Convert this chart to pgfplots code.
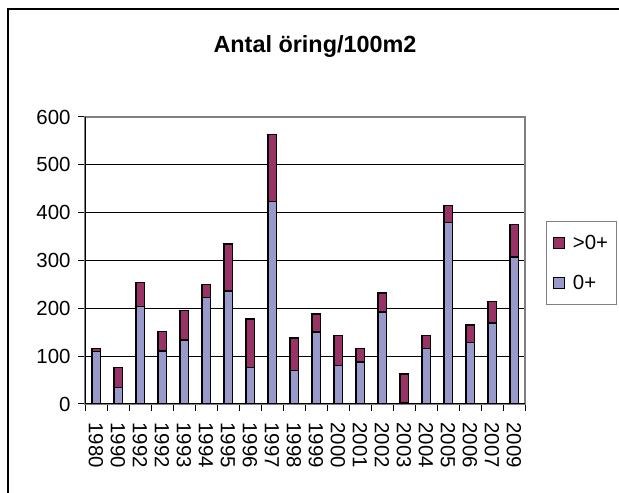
\documentclass[border=0pt]{standalone}
\usepackage{fontspec}
\setmainfont{Liberation Sans}
\usepackage{pgfplots}
\pgfplotsset{compat=1.18}
\definecolor{zero}{HTML}{9999CC}
\definecolor{older}{HTML}{993366}
\begin{document}
\begin{tikzpicture}[x=1bp,y=1bp]
\useasboundingbox (0,0) rectangle (619,493);
\draw[line width=1.2bp] (8,0) -- (8,484) -- (619,484);
\node[font=\bfseries\fontsize{23.5}{28}\selectfont, anchor=base, inner sep=0pt] at (315,440) {Antal öring/100m2};
\begin{axis}[
  at={(85bp,89bp)}, anchor=south west,
  scale only axis, width=440bp, height=287bp,
  ybar stacked, bar width=8.5bp,
  xmin=-0.5, xmax=19.5, ymin=0, ymax=600,
  xtick={-0.5,0.5,...,19.5},
  x tick label as interval,
  xticklabels={1980,1990,1992,1992,1993,1994,1995,1996,1997,1998,1999,2000,2001,2002,2003,2004,2005,2006,2007,2009},
  xticklabel style={rotate=-90, anchor=west},
  xticklabel shift=8bp,
  yticklabel style={xshift=-4bp},
  ytick={0,100,...,600},
  xtick pos=bottom, ytick pos=left,
  tick align=outside, major tick length=7bp,
  tick style={black, line width=1bp},
  tick label style={font=\fontsize{20.5}{24}\selectfont},
  /pgf/number format/assume math mode=true,
  ymajorgrids, major grid style={black, line width=0.8bp},
  axis line style={draw=gray, line width=1.5bp},
  legend style={at={(1.0477,0.6387)}, anchor=north west, draw=gray, line width=1bp,
    font=\fontsize{20.5}{24}\selectfont, row sep=20bp, inner xsep=6bp, inner ysep=12bp},
  legend cell align=left,
  reverse legend,
  legend image code/.code={\draw[#1, draw=black, line width=1.4bp] (0bp,-5.5bp) rectangle (11bp,5.5bp); \path (17bp,0bp);},
]
\addplot[fill=zero, draw=black, line width=1.5bp] coordinates {
(0,110) (1,35) (2,204) (3,111) (4,134) (5,223) (6,236) (7,76) (8,423) (9,70)
(10,151) (11,80) (12,88) (13,192) (14,3) (15,116) (16,379) (17,129) (18,169) (19,307)};
\addlegendentry{0+}
\addplot[fill=older, draw=black, line width=1.5bp] coordinates {
(0,6) (1,41) (2,50) (3,41) (4,61) (5,27) (6,99) (7,102) (8,140) (9,68)
(10,37) (11,63) (12,28) (13,40) (14,60) (15,27) (16,36) (17,36) (18,45) (19,68)};
\addlegendentry{>0+}
\draw[black, line width=1.2bp] (rel axis cs:0,1) -- (rel axis cs:0,0) -- (rel axis cs:1,0);
\end{axis}
\end{tikzpicture}
\end{document}
